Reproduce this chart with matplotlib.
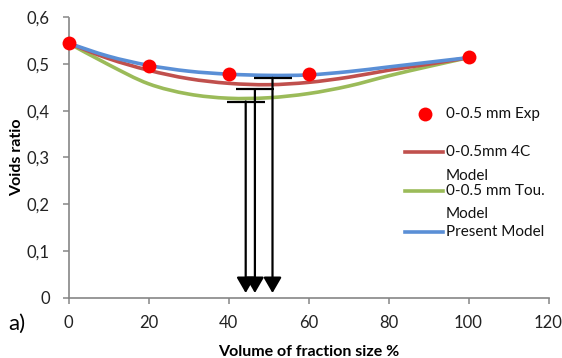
import matplotlib
matplotlib.use("Agg")
import matplotlib.pyplot as plt
from matplotlib.path import Path
from matplotlib.patches import PathPatch
from matplotlib.ticker import FuncFormatter, MultipleLocator
import numpy as np

plt.rcParams['font.family'] = ['Lato', 'DejaVu Sans']

# Experimental voids ratio
exp_x = [0, 20, 40, 60, 100]
exp_y = [0.546, 0.496, 0.478, 0.478, 0.515]

# Model curves (volume fraction %, voids ratio)
model_x = [0, 10, 20, 30, 40, 50, 60, 70, 80, 90, 100]
model_4c = [0.545, 0.512, 0.487, 0.469, 0.459, 0.456, 0.461, 0.472, 0.487, 0.500, 0.514]
model_tou = [0.545, 0.499, 0.458, 0.436, 0.427, 0.428, 0.437, 0.453, 0.475, 0.495, 0.514]
model_present = [0.545, 0.517, 0.4975, 0.485, 0.4786, 0.476, 0.477, 0.484, 0.494, 0.504, 0.514]

# Optimum (minimum voids) points for each model: 4C, Tou., Present
opt_x = [46.6, 44.3, 51.0]
opt_y = [0.4465, 0.420, 0.4707]

RED = '#C0504D'
GREEN = '#9BBB59'
BLUE = '#5A8FD6'
GRAY = '#868686'


def smooth_path(xs, ys):
    """Catmull-Rom style cubic Bezier path through the given points."""
    xs = np.asarray(xs, float)
    ys = np.asarray(ys, float)
    pts = np.column_stack([xs, ys])
    n = len(pts)
    verts = [pts[0]]
    codes = [Path.MOVETO]
    for i in range(n - 1):
        p0 = pts[i - 1] if i > 0 else pts[i]
        p1 = pts[i]
        p2 = pts[i + 1]
        p3 = pts[i + 2] if i + 2 < n else pts[i + 1]
        c1 = p1 + (p2 - p0) / 6.0
        c2 = p2 - (p3 - p1) / 6.0
        verts += [c1, c2, p2]
        codes += [Path.CURVE4] * 3
    return Path(verts, codes)


fig = plt.figure(figsize=(5.62, 3.58), dpi=100)
ax = fig.add_axes([68.5 / 562, (358 - 297.5) / 358, 480 / 562, 280 / 358])

for ys, col in [(model_tou, GREEN), (model_4c, RED), (model_present, BLUE)]:
    ax.add_patch(PathPatch(smooth_path(model_x, ys), facecolor='none',
                           edgecolor=col, lw=2.6, capstyle='round', zorder=2))

ax.plot(exp_x, exp_y, 'o', color='#FF0000', ms=10, mec='none', zorder=4,
        clip_on=False)

# Optimum markers: horizontal bar and arrow down to the axis
bar_half = 4.75
for x, y in zip(opt_x, opt_y):
    ax.plot([x - bar_half, x + bar_half], [y, y], color='black', lw=1.6,
            solid_capstyle='butt', zorder=5)
    ax.annotate('', xy=(x, 0.0096), xytext=(x, y),
                arrowprops=dict(arrowstyle='-|>,head_length=0.95,head_width=0.55',
                                color='black', lw=1.6, shrinkA=0, shrinkB=0),
                zorder=5)

ax.set_xlim(0, 120)
ax.set_ylim(0, 0.6)
ax.xaxis.set_major_locator(MultipleLocator(20))
ax.yaxis.set_major_locator(MultipleLocator(0.1))
ax.yaxis.set_major_formatter(FuncFormatter(
    lambda v, p: '0' if abs(v) < 1e-9 else f'{v:.1f}'.replace('.', ',')))

for s in ['top', 'right']:
    ax.spines[s].set_visible(False)
for s in ['left', 'bottom']:
    ax.spines[s].set_color(GRAY)
    ax.spines[s].set_linewidth(1.2)
ax.tick_params(axis='both', direction='out', length=4.5, width=1.1, color=GRAY,
               labelsize=12, labelcolor='#222222')
ax.tick_params(axis='y', pad=9)
ax.tick_params(axis='x', pad=8)

ax.set_ylabel('Voids ratio', fontsize=11.5, fontweight='bold')
ax.set_xlabel('Volume of fraction size %', fontsize=11.5, fontweight='bold')
ax.yaxis.set_label_coords(-0.093, 0.5)
ax.xaxis.set_label_coords(0.5, -0.17)

fig.text(8 / 562, 1 - 324 / 358, 'a)', fontsize=16, va='center', ha='left')


# Legend drawn in axes fraction coordinates
def axfrac(px, py):
    return (px - 68.5) / 480, (297.5 - py) / 280

tk = dict(transform=ax.transAxes, fontsize=11, va='center', ha='left',
          color='#111111')
x0, x1 = axfrac(405, 0)[0], axfrac(443, 0)[0]
tx = axfrac(446, 0)[0]

ax.plot([axfrac(425, 114)[0]], [axfrac(425, 114)[1]], 'o', color='#FF0000',
        ms=10, mec='none', transform=ax.transAxes, clip_on=False)
ax.text(tx, axfrac(0, 114)[1], '0-0.5 mm Exp', **tk)

for col, ly, lines in [
        (RED, 152.3, [('0-0.5mm 4C', 152.3), ('Model', 175.5)]),
        (GREEN, 190.7, [('0-0.5 mm Tou.', 190.7), ('Model', 214)]),
        (BLUE, 231.7, [('Present Model', 231.7)])]:
    yy = axfrac(0, ly)[1]
    ax.plot([x0, x1], [yy, yy], color=col, lw=2.6, transform=ax.transAxes,
            clip_on=False)
    for t, ty in lines:
        ax.text(tx, axfrac(0, ty)[1], t, **tk)

fig.savefig('out.png', dpi=100)
